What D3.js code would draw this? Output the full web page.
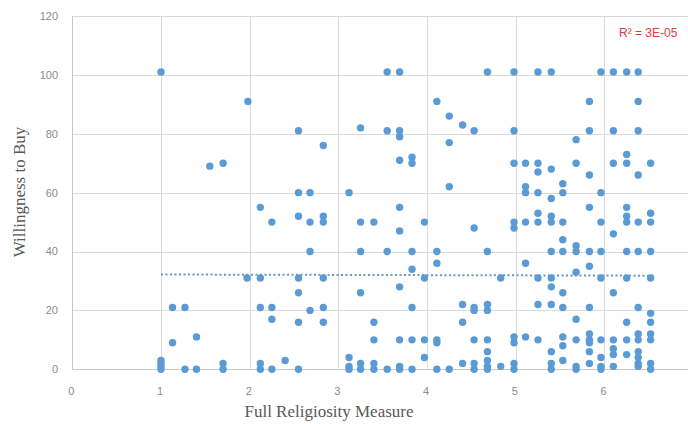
<!DOCTYPE html>
<html>
<head>
<meta charset="utf-8">
<script src="https://cdn.jsdelivr.net/npm/d3@7"></script>
<style>
html,body{margin:0;padding:0;background:#fff;}
svg{display:block;}
</style>
</head>
<body>
<svg id="chart" width="688" height="424"></svg>
<script>
// ---- data ----
const religiosity = [
1.00,1.98,1.55,1.70,
2.12,2.25,1.97,2.12,1.13,1.27,2.12,2.25,2.25,1.13,1.40,1.00,1.00,1.00,1.00,1.27,1.40,1.70,1.70,2.12,2.12,2.25,
3.55,3.69,4.11,4.25,4.40,4.53,4.25,4.25,2.55,2.83,3.25,3.55,3.69,3.69,3.69,3.83,3.83,2.55,2.68,3.12,
2.55,2.68,2.83,2.83,3.25,3.40,3.69,3.69,3.97,4.53,2.68,3.25,3.55,3.83,4.11,4.11,3.83,2.55,2.83,3.97,3.69,2.55,3.25,
2.83,2.68,2.55,2.83,3.83,3.40,3.40,3.69,3.83,3.97,4.11,4.11,4.40,4.53,4.53,4.40,4.53,3.97,2.40,2.55,
3.12,3.12,3.12,3.25,3.25,3.40,3.40,3.55,3.69,3.69,3.83,4.11,4.25,4.40,4.53,4.53,
4.68,4.98,5.25,5.40,5.96,6.10,6.25,6.38,5.83,6.38,4.98,5.83,6.10,6.38,5.68,6.25,
4.98,5.11,5.25,5.68,6.10,6.25,6.52,5.25,5.40,5.83,6.38,5.11,5.11,5.25,5.53,5.53,5.96,5.40,
4.98,4.98,5.11,5.25,5.25,5.40,5.40,5.53,5.83,5.96,6.10,6.25,6.25,6.25,6.38,6.52,6.52,
4.68,5.40,5.53,5.53,5.68,5.68,5.83,5.96,6.25,6.38,6.52,5.11,5.83,5.68,4.83,5.25,5.40,5.40,5.96,6.25,6.52,
5.53,6.10,4.68,4.68,5.25,5.40,5.53,5.83,6.38,5.68,6.52,6.52,6.25,
4.68,4.98,4.98,5.11,5.25,5.53,5.53,5.68,5.83,5.83,5.83,5.96,6.10,6.25,6.38,6.38,6.52,6.52,
4.68,5.40,5.83,6.10,6.10,6.38,6.38,6.25,5.53,5.83,4.68,
4.68,4.68,4.83,4.98,4.98,5.40,5.40,5.68,5.68,5.96,5.96,5.96,6.10,6.38,6.38,6.52,6.52
];
const willingness = [
101,91,69,70,
55,50,31,31,21,21,21,21,17,9,11,0,1,2,3,0,0,0,2,0,2,0,
101,101,91,86,83,81,77,62,81,76,82,81,81,79,71,72,70,60,60,60,
52,50,52,50,50,50,55,47,50,48,40,40,40,40,40,36,34,31,31,31,28,26,26,
21,20,16,16,21,16,10,10,10,10,10,9,22,21,20,16,10,4,3,0,
4,1,0,2,0,2,0,0,1,0,0,0,0,2,2,0,
101,101,101,101,101,101,101,101,91,91,81,81,81,81,78,73,
70,70,70,70,70,70,70,67,68,66,66,62,60,60,63,60,60,58,
50,48,50,53,50,52,50,50,55,50,46,55,52,50,50,53,50,
40,40,44,40,42,40,40,40,40,40,40,36,35,33,31,31,31,28,31,31,31,
26,26,22,20,22,22,21,21,21,17,19,16,16,
10,11,9,11,10,11,8,10,12,10,9,10,10,10,12,10,12,10,
6,6,6,7,5,6,4,5,3,2,3,
1,0,1,2,0,2,0,1,0,4,1,0,1,2,1,2,0
];
const xTicks = [0,1,2,3,4,5,6];
const yTicks = [0,20,40,60,80,100,120];
const trendX = [1.00, 6.55];
const trendY = [32.2, 31.8];
const r2Label = "R\u00B2 = 3E-05";
const xTitle = "Full Religiosity Measure";
const yTitle = "Willingness to Buy";

// ---- drawing ----
const svg = d3.select("#chart");
const W = 688, H = 424;
svg.append("rect").attr("width", W).attr("height", H).attr("fill", "#fff");

const x = d3.scaleLinear().domain([0, 7]).range([72.3, 72.3 + 7 * 88.7]);
const y = d3.scaleLinear().domain([0, 120]).range([369.3, 16]);

const grid = svg.append("g");
grid.selectAll("line.h").data(yTicks).enter().append("line")
  .attr("x1", x(0)).attr("x2", W)
  .attr("y1", d => Math.round(y(d)) + 0.5).attr("y2", d => Math.round(y(d)) + 0.5)
  .attr("stroke", d => d === 0 ? "#c8c8c8" : "#d9d9d9").attr("stroke-width", 1);
grid.selectAll("line.v").data(xTicks).enter().append("line")
  .attr("x1", d => Math.round(x(d)) + 0.5).attr("x2", d => Math.round(x(d)) + 0.5)
  .attr("y1", y(120)).attr("y2", y(0))
  .attr("stroke", d => d === 0 ? "#c8c8c8" : "#d9d9d9").attr("stroke-width", 1);

const tickFont = "'Liberation Sans', Arial, sans-serif";
svg.append("g").selectAll("text").data(yTicks).enter().append("text")
  .attr("x", 58).attr("y", d => y(d)).attr("dy", "0.35em")
  .attr("text-anchor", "end").attr("font-family", tickFont).attr("font-size", 11)
  .attr("fill", "#8a8a8a").text(d => d);
svg.append("g").selectAll("text").data(xTicks).enter().append("text")
  .attr("x", d => x(d) - 1).attr("y", 391).attr("dy", "0.35em")
  .attr("text-anchor", "middle").attr("font-family", tickFont).attr("font-size", 11)
  .attr("fill", "#8a8a8a").text(d => d);

svg.append("text")
  .attr("transform", "translate(25,192) rotate(-90)")
  .attr("text-anchor", "middle").attr("font-family", "'Liberation Serif', 'Times New Roman', serif")
  .attr("font-size", 17).attr("fill", "#595959").text(yTitle);
svg.append("text")
  .attr("x", 329).attr("y", 417)
  .attr("text-anchor", "middle").attr("font-family", "'Liberation Serif', 'Times New Roman', serif")
  .attr("font-size", 17).attr("fill", "#595959").text(xTitle);

const pts = religiosity.map((v, i) => [v, willingness[i]]);
svg.append("path")
  .datum(trendX.map((v, i) => [v, trendY[i]]))
  .attr("d", d3.line().x(d => x(d[0])).y(d => y(d[1])))
  .attr("fill", "none").attr("stroke", "#5b9bd5").attr("stroke-width", 2)
  .attr("stroke-dasharray", "2,2.5");

svg.append("g").selectAll("circle").data(pts).enter().append("circle")
  .attr("cx", d => x(d[0])).attr("cy", d => y(d[1])).attr("r", 3.7)
  .attr("fill", "#5b9bd5");

svg.append("text")
  .attr("x", 619).attr("y", 33).attr("dy", "0.35em")
  .attr("font-family", tickFont).attr("font-size", 12)
  .attr("fill", "#e03c3c").text(r2Label);
</script>
</body>
</html>
